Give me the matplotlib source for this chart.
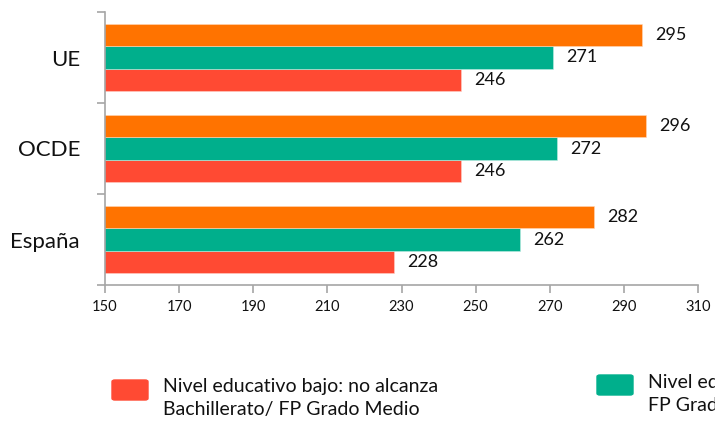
import numpy as np
import matplotlib
matplotlib.use("Agg")
import matplotlib.pyplot as plt
from matplotlib.patches import FancyBboxPatch

plt.rcParams['font.family'] = ['Lato', 'DejaVu Sans']

# === Données ===
regions = ['España', 'OCDE', 'UE']
bajo = [228, 246, 246]
medio = [262, 272, 271]
alto = [282, 296, 295]
xticks = [150, 170, 190, 210, 230, 250, 270, 290, 310]

legend_labels = ['Nivel educativo bajo: no alcanza\nBachillerato/ FP Grado Medio',
                 'Nivel educativo medio: Bachillerato/\nFP Grado Medio']

c_bajo = '#FF4A33'
c_medio = '#00AF8C'
c_alto = '#FF7300'
axis_col = '#A6A6A6'
txt_col = '#111111'

fig = plt.figure(figsize=(7.15, 4.21), dpi=100)
ax = fig.add_axes([105 / 715, 1 - 285 / 421, 593 / 715, 273 / 421])

y = np.arange(len(regions))
h = 0.242
ax.barh(y - h, bajo, height=h, color=c_bajo, edgecolor='#FFD0C8', linewidth=0.4)
ax.barh(y, medio, height=h, color=c_medio, edgecolor='#BFEDE2', linewidth=0.4)
ax.barh(y + h, alto, height=h, color=c_alto, edgecolor='#FFD8B8', linewidth=0.4)

for vals, off in [(bajo, -h), (medio, 0), (alto, h)]:
    for i, v in enumerate(vals):
        ax.text(v + 3.5, i + off, str(v), va='center', ha='left',
                fontsize=13, color=txt_col)

ax.set_xlim(150, 310)
ax.set_ylim(-0.5, 2.5)
ax.set_xticks(xticks)
ax.set_xticklabels([str(t) for t in xticks], fontsize=10.5, color=txt_col)
ax.set_yticks(y)
ax.set_yticklabels(regions, fontsize=16, color=txt_col)
ax.set_yticks([-0.5, 0.5, 1.5, 2.5], minor=True)
ax.tick_params(axis='y', which='major', length=0, pad=18)
ax.tick_params(axis='y', which='minor', length=6, color=axis_col, width=1.2, direction='out')
ax.tick_params(axis='x', length=6, color=axis_col, width=1.2, direction='out', pad=5)

for s in ['top', 'right']:
    ax.spines[s].set_visible(False)
for s in ['left', 'bottom']:
    ax.spines[s].set_color(axis_col)
    ax.spines[s].set_linewidth(1.2)

# === Légende (coupée à droite comme l'original) ===
W, H = 715, 421
for (x0, y0, col), lab, ty in zip([(112, 380, c_bajo), (597, 375, c_medio)],
                                  legend_labels, [398, 394]):
    box = FancyBboxPatch((x0 / W, 1 - (y0 + 20) / H), 36 / W, 20 / H,
                         boxstyle='round,pad=0,rounding_size=0.004',
                         transform=fig.transFigure, color=col)
    fig.patches.append(box)
    fig.text((x0 + 51) / W, 1 - ty / H, lab, fontsize=14, va='center',
             ha='left', color=txt_col, linespacing=1.45)

fig.savefig('out.png', dpi=100)
